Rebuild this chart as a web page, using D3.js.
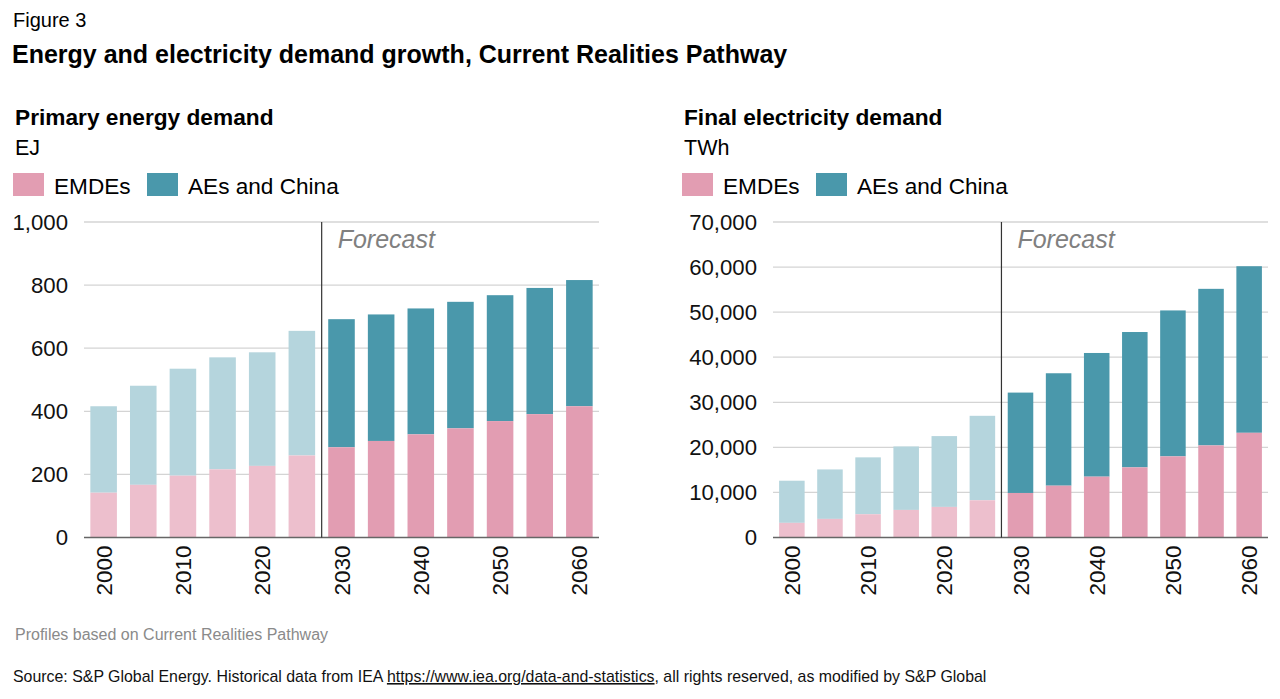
<!DOCTYPE html>
<html>
<head>
<meta charset="utf-8">
<script src="https://cdn.jsdelivr.net/npm/d3@7"></script>
<style>
  body { margin: 0; background: #fff; }
  svg { font-family: "Liberation Sans", Arial, sans-serif; }
</style>
</head>
<body>
<div id="drawing"></div>
<script>
// Data
const years = [2000, 2005, 2010, 2015, 2020, 2025, 2030, 2035, 2040, 2045, 2050, 2055, 2060];
const firstForecast = 2030;

// Primary energy demand, EJ
const energyEmdes = [142, 167, 196, 216, 227, 260, 286, 306, 327, 346, 369, 391, 416];
const energyTotal = [416, 481, 535, 571, 587, 655, 692, 707, 726, 747, 768, 791, 816];

// Final electricity demand, TWh
const elecEmdes = [3250, 4130, 5160, 6120, 6790, 8260, 9880, 11500, 13500, 15560, 18000, 20430, 23230];
const elecTotal = [12600, 15100, 17780, 20200, 22500, 27000, 32150, 36440, 40940, 45590, 50380, 55170, 60190];

const energyTicks = [0, 200, 400, 600, 800, 1000];
const elecTicks = [0, 10000, 20000, 30000, 40000, 50000, 60000, 70000];
const xLabelYears = [2000, 2010, 2020, 2030, 2040, 2050, 2060];

const seriesNames = ["EMDEs", "AEs and China"];

const colors = {
  emdes: "#e29db2", emdesHist: "#edbfcd",
  aes: "#4a98ab", aesHist: "#b5d5dd"
};

const svgWidth = 1280;
const svgHeight = 699;

const svg = d3.select("#drawing")
  .append("svg")
  .attr("width", svgWidth)
  .attr("height", svgHeight);

// Headings
svg.append("text").attr("x", 13).attr("y", 27)
  .style("font-size", "20px").text("Figure 3");
svg.append("text").attr("x", 12).attr("y", 63)
  .style("font-size", "25px").style("font-weight", "bold")
  .text("Energy and electricity demand growth, Current Realities Pathway");

function drawPanel(p) {
  const g = svg.append("g");

  // panel title + unit
  g.append("text").attr("x", p.left).attr("y", 125)
    .style("font-size", "22.7px").style("font-weight", "bold").text(p.title);
  g.append("text").attr("x", p.left).attr("y", 155)
    .style("font-size", "21.5px").text(p.unit);

  // legend
  const leg = [
    { name: seriesNames[0], color: colors.emdes, x: p.left - 2 },
    { name: seriesNames[1], color: colors.aes, x: p.left + 132 }
  ];
  leg.forEach(l => {
    g.append("rect").attr("x", l.x).attr("y", 173).attr("width", 31).attr("height", 23)
      .attr("fill", l.color);
    g.append("text").attr("x", l.x + 41).attr("y", 194)
      .style("font-size", "22.6px").text(l.name);
  });

  const x = d3.scaleBand()
    .domain(years)
    .range([p.x0, p.x1])
    .paddingInner(0.33)
    .paddingOuter(0.16);

  const y = d3.scaleLinear()
    .domain([0, p.ticks[p.ticks.length - 1]])
    .range([537.5, 222]);

  // grid
  g.selectAll(".grid")
    .data(p.ticks.filter(t => t > 0))
    .enter().append("line")
    .attr("x1", p.x0).attr("x2", p.x1)
    .attr("y1", d => y(d)).attr("y2", d => y(d))
    .attr("stroke", "#d4d4d4").attr("stroke-width", 1.3);

  // y axis labels
  const yAxis = d3.axisLeft(y).tickValues(p.ticks).tickSize(0).tickPadding(16)
    .tickFormat(d3.format(","));
  const ya = g.append("g").attr("transform", `translate(${p.x0},0)`).call(yAxis);
  ya.select(".domain").remove();
  ya.selectAll("text").style("font-size", "22.2px").attr("fill", "#111")
    .style("font-family", "'Liberation Sans', Arial, sans-serif");

  // bars
  const isHist = yr => yr < firstForecast;
  const barsData = years.map((yr, i) => ({ yr, emdes: p.emdes[i], total: p.total[i] }));

  g.selectAll(".bar-aes")
    .data(barsData)
    .enter().append("rect")
    .attr("x", d => x(d.yr))
    .attr("width", x.bandwidth())
    .attr("y", d => y(d.total))
    .attr("height", d => y(d.emdes) - y(d.total))
    .attr("fill", d => isHist(d.yr) ? colors.aesHist : colors.aes);

  g.selectAll(".bar-emdes")
    .data(barsData)
    .enter().append("rect")
    .attr("x", d => x(d.yr))
    .attr("width", x.bandwidth())
    .attr("y", d => y(d.emdes))
    .attr("height", d => y(0) - y(d.emdes))
    .attr("fill", d => isHist(d.yr) ? colors.emdesHist : colors.emdes);

  // baseline
  g.append("line")
    .attr("x1", p.x0).attr("x2", p.x1)
    .attr("y1", y(0)).attr("y2", y(0))
    .attr("stroke", "#666").attr("stroke-width", 1.3);

  // x axis labels (rotated)
  const xAxis = d3.axisBottom(x).tickSize(0).tickPadding(0)
    .tickFormat(d => xLabelYears.includes(d) ? d : "");
  const xa = g.append("g").attr("transform", `translate(0,${y(0)})`).call(xAxis);
  xa.select(".domain").remove();
  xa.selectAll("text")
    .attr("transform", "rotate(-90)")
    .attr("x", -8).attr("y", 0).attr("dy", "0.36em")
    .style("text-anchor", "end")
    .style("font-size", "22.5px").attr("fill", "#111")
    .style("font-family", "'Liberation Sans', Arial, sans-serif");

  // forecast divider
  const prevYr = years[years.indexOf(firstForecast) - 1];
  const fx = (x(prevYr) + x.bandwidth() + x(firstForecast)) / 2;
  g.append("line")
    .attr("x1", fx).attr("x2", fx)
    .attr("y1", y.range()[1]).attr("y2", y(0))
    .attr("stroke", "#333").attr("stroke-width", 1.2);
  g.append("text").attr("x", fx + 16).attr("y", 248)
    .style("font-size", "25px").style("font-style", "italic")
    .attr("fill", "#808080").text("Forecast");
}

drawPanel({
  title: "Primary energy demand", unit: "EJ", left: 15,
  x0: 84, x1: 599, ticks: energyTicks,
  emdes: energyEmdes, total: energyTotal
});

drawPanel({
  title: "Final electricity demand", unit: "TWh", left: 684,
  x0: 773, x1: 1268, ticks: elecTicks,
  emdes: elecEmdes, total: elecTotal
});

// notes
svg.append("text").attr("x", 15).attr("y", 640)
  .style("font-size", "16px").attr("fill", "#8a8a8a")
  .text("Profiles based on Current Realities Pathway");

const src = svg.append("text").attr("x", 13).attr("y", 682)
  .style("font-size", "15.9px").attr("fill", "#111");
src.append("tspan").text("Source: S&P Global Energy. Historical data from IEA ");
src.append("tspan").style("text-decoration", "underline").text("https://www.iea.org/data-and-statistics");
src.append("tspan").text(", all rights reserved, as modified by S&P Global");
</script>
</body>
</html>
